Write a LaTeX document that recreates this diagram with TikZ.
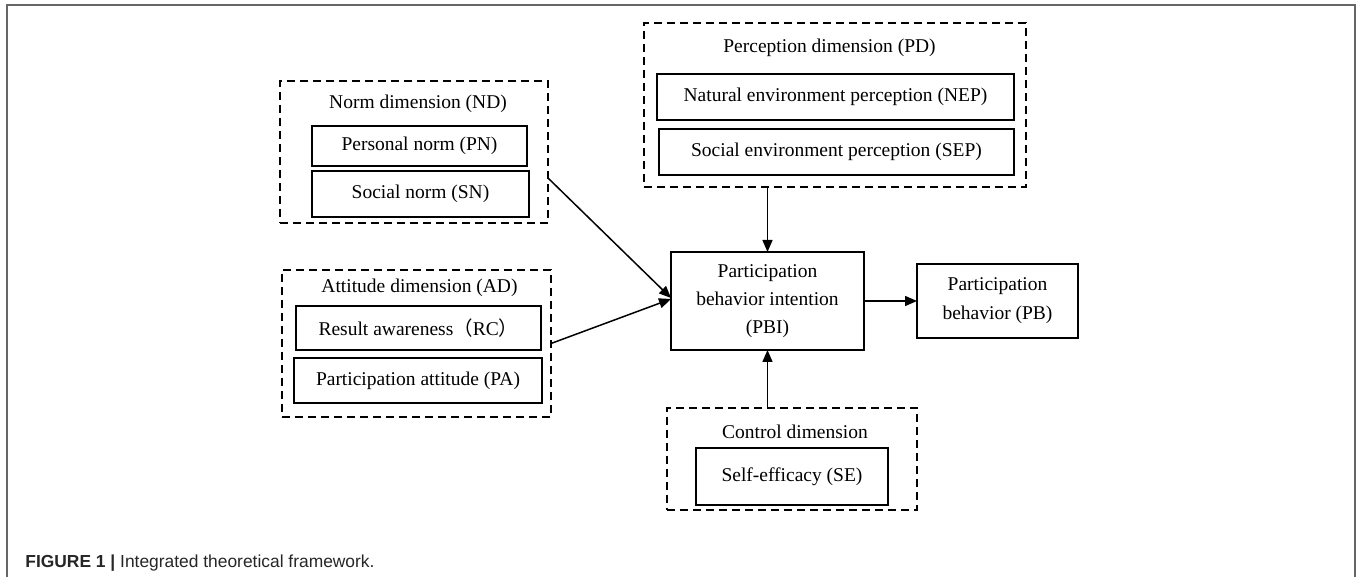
\documentclass[tikz,border=0pt]{standalone}
\usepackage{fontspec}
\setmainfont{Liberation Serif}
\newfontfamily\capfont{Liberation Sans}
\newfontfamily\cjk{Noto Sans CJK SC}
\usetikzlibrary{arrows.meta}
\begin{document}
\begin{tikzpicture}[x=0.5pt,y=-0.5pt,
  dbox/.style={draw, dash pattern=on 4pt off 2.5pt, line width=0.75pt, inner sep=0pt, outer sep=0pt},
  sbox/.style={draw, line width=0.65pt, inner sep=0pt, outer sep=0pt, align=center, font=\fontsize{9.75}{14}\selectfont},
  lbl/.style={inner sep=0pt, font=\fontsize{9.75}{14}\selectfont},
  arr/.style={-{Triangle[length=6pt,width=5pt]}, line width=0.75pt},
  frame/.style={draw=black!60, line width=1pt}]
\useasboundingbox (0,0) rectangle (1357,577);
% outer frame
\coordinate (f1) at (7,577);
\coordinate (f2) at (7,5);
\coordinate (f3) at (1355,5);
\coordinate (f4) at (1355,577);
\draw[frame] (f1) -- (f2) -- (f3) -- (f4);

% Norm dimension
\node[dbox, minimum width=134pt, minimum height=71pt] (norm) at (414,152) {};
\node[lbl] (normt) at (418,104) {Norm dimension (ND)};
\node[sbox, minimum width=107.5pt, minimum height=20pt] (pn) at (419.5,146) {Personal norm (PN)};
\node[sbox, minimum width=108.5pt, minimum height=23pt] (sn) at (420.5,194) {Social norm (SN)};

% Attitude dimension
\node[dbox, minimum width=134.5pt, minimum height=73.5pt] (att) at (416.5,343.5) {};
\node[lbl] (attt) at (419.5,288) {Attitude dimension (AD)};
\node[sbox, minimum width=122.5pt, minimum height=22pt] (rc) at (418.5,328) {Result awareness{\cjk （}RC{\cjk ）}};
\node[sbox, minimum width=124pt, minimum height=22.5pt] (pa) at (418,380.5) {Participation attitude (PA)};

% Perception dimension
\node[dbox, minimum width=191pt, minimum height=82pt] (perc) at (835,105) {};
\node[lbl] (perct) at (829.5,48) {Perception dimension (PD)};
\node[sbox, minimum width=178.5pt, minimum height=23pt] (nep) at (835.5,97) {Natural environment perception (NEP)};
\node[sbox, minimum width=177.5pt, minimum height=23pt] (sep) at (836.5,152) {Social environment perception (SEP)};

% PBI and PB
\node[sbox, minimum width=96.5pt, minimum height=49pt] (pbi) at (767.5,301) {Participation\\behavior intention\\(PBI)};
\node[sbox, minimum width=80.5pt, minimum height=37pt, font=\fontsize{9.75}{14.5}\selectfont] (pb) at (997.5,301) {Participation\\behavior (PB)};

% Control dimension
\node[dbox, minimum width=125pt, minimum height=51pt] (ctrl) at (792,459) {};
\node[lbl] (ctrlt) at (795,432) {Control dimension};
\node[sbox, minimum width=96pt, minimum height=28.5pt] (se) at (792,476.5) {Self-efficacy (SE)};

% connectors
\draw[arr] ([yshift=-13pt]norm.east) -- ([yshift=1.5pt]pbi.west);
\draw[arr] (att.east) -- ([yshift=1pt]pbi.west);
\draw[arr] (pbi.north |- perc.south) -- (pbi.north);
\draw[arr] (pbi.south |- ctrl.north) -- (pbi.south);
\draw[arr] (pbi.east) -- (pb.west);

% caption
\node[anchor=west, inner sep=0pt, text=black!85, font=\capfont\fontsize{8.7}{10}\selectfont] (cap) at (25,563) {{\bfseries FIGURE 1 |} Integrated theoretical framework.};
\end{tikzpicture}
\end{document}
